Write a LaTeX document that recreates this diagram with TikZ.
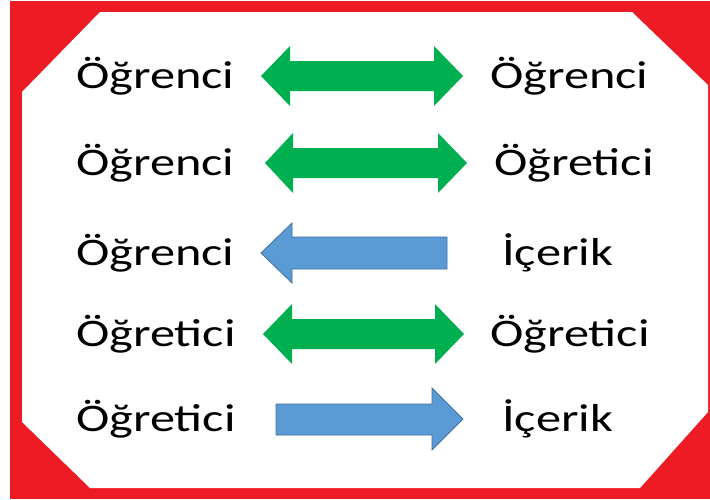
\documentclass[tikz,border=0pt]{standalone}
\usepackage{fontspec}
\newfontfamily\labelfont[FakeStretch=1.29]{Carlito}
\definecolor{framered}{RGB}{237,28,36}
\definecolor{arrgreen}{RGB}{0,176,80}
\definecolor{arrblue}{RGB}{91,155,213}
\definecolor{arrblueline}{RGB}{65,113,156}
\tikzset{
  lbl/.style={anchor=base west, inner sep=0pt, font=\labelfont\fontsize{39}{42}\selectfont, text=black},
  garrow/.style={fill=arrgreen},
  barrow/.style={fill=arrblue, draw=arrblueline, line width=0.8pt},
}
\begin{document}
\begin{tikzpicture}[x=1pt,y=-1pt]
\useasboundingbox (0,0) rectangle (710,499);
\fill[white] (0,0) rectangle (710,499);
\fill[framered] (10,1) rectangle (710,499);
\fill[white] (100,12) -- (632,12) -- (708,85) -- (708,412) -- (640,488) -- (90,488) -- (22,422) -- (22,92) -- cycle;
% row 1
\node[lbl] (l1) at (76,88) {Öğrenci};
\node[lbl] (r1) at (490,88) {Öğrenci};
\fill[garrow] (261,76) -- ++(29,-30) -- ++(0,15) -- (434,61) -- ++(0,-15) -- (463,76) -- ++(-29,30) -- ++(0,-15) -- (290,91) -- ++(0,15) -- cycle;
% row 2
\node[lbl] (l2) at (76,175) {Öğrenci};
\node[lbl] (r2) at (494,175) {Öğretici};
\fill[garrow] (265,163) -- ++(28,-30) -- ++(0,15) -- (438,148) -- ++(0,-15) -- (467,163) -- ++(-29,30) -- ++(0,-15) -- (293,178) -- ++(0,15) -- cycle;
% row 3
\node[lbl] (l3) at (76,265) {Öğrenci};
\node[lbl] (r3) at (502,265) {İçerik};
\filldraw[barrow] (261,253) -- (292,223) -- (292,237) -- (447,237) -- (447,269) -- (292,269) -- (292,283) -- cycle;
% row 4
\node[lbl] (l4) at (76,346) {Öğretici};
\node[lbl] (r4) at (490,346) {Öğretici};
\fill[garrow] (263,334) -- ++(29,-30) -- ++(0,15) -- (435,319) -- ++(0,-15) -- (464,334) -- ++(-29,30) -- ++(0,-15) -- (292,349) -- ++(0,15) -- cycle;
% row 5
\node[lbl] (l5) at (76,431) {Öğretici};
\node[lbl] (r5) at (502,431) {İçerik};
\filldraw[barrow] (463,419) -- (432,388) -- (432,404) -- (276,404) -- (276,435) -- (432,435) -- (432,450) -- cycle;
\end{tikzpicture}
\end{document}
